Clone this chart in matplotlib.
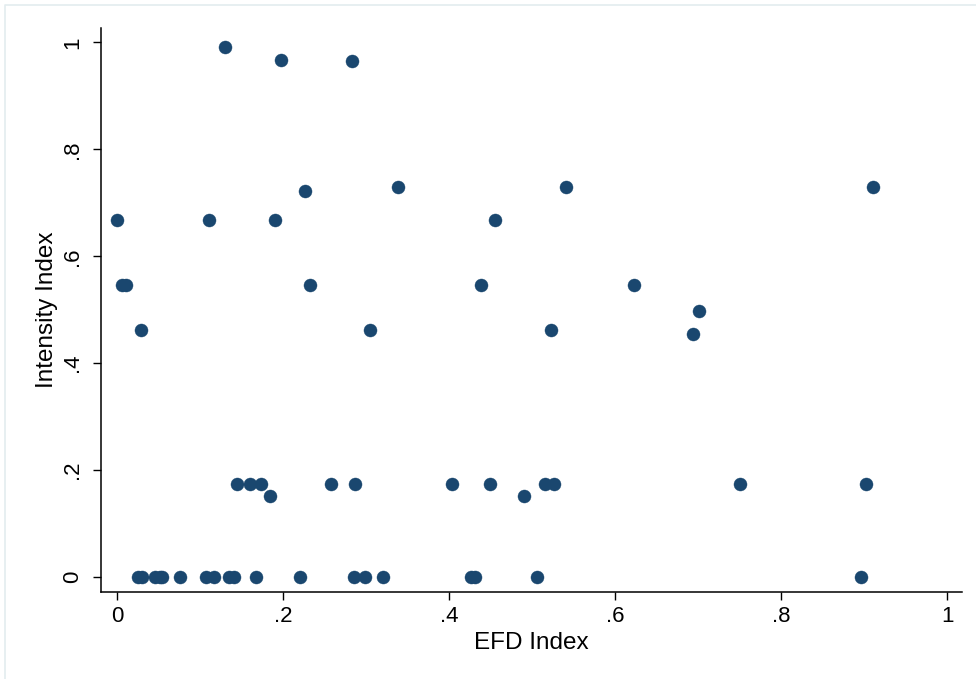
import numpy as np
import matplotlib
matplotlib.use("Agg")
import matplotlib.pyplot as plt
from matplotlib.lines import Line2D

plt.rcParams["font.family"] = ["Liberation Sans", "DejaVu Sans"]

# EFD index vs intensity index
efd = [0.130, 0.198, 0.283, 0.2265, 0.339, 0.541, 0.911,
       0.000, 0.111, 0.190, 0.455,
       0.006, 0.011, 0.233, 0.439, 0.623,
       0.701, 0.029, 0.305, 0.523, 0.694,
       0.144, 0.160, 0.173, 0.258, 0.287, 0.404, 0.449, 0.516, 0.526, 0.751, 0.902,
       0.184, 0.490,
       0.025, 0.030, 0.046, 0.052, 0.054, 0.076, 0.107, 0.117, 0.135, 0.141,
       0.168, 0.221, 0.285, 0.299, 0.320, 0.427, 0.431, 0.506, 0.896]
intensity = [0.991, 0.968, 0.966, 0.723, 0.729, 0.729, 0.729,
             0.667, 0.667, 0.667, 0.667,
             0.546, 0.546, 0.546, 0.546, 0.546,
             0.497, 0.462, 0.462, 0.462, 0.454,
             0.174, 0.174, 0.174, 0.174, 0.174, 0.174, 0.174, 0.174, 0.174, 0.174, 0.174,
             0.151, 0.151,
             0, 0, 0, 0, 0, 0, 0, 0, 0, 0,
             0, 0, 0, 0, 0, 0, 0, 0, 0]

ticks = [0, 0.2, 0.4, 0.6, 0.8, 1.0]
tick_labels = ["0", ".2", ".4", ".6", ".8", "1"]

W, H = 976, 679
fig = plt.figure(figsize=(W / 100, H / 100), dpi=100)
fig.patch.set_facecolor("white")
ax = fig.add_axes([101 / W, 1 - 592 / H, (962 - 101) / W, (592 - 28) / H])

ax.scatter(efd, intensity, s=88, color="#1a476f", edgecolors="#1a476f",
           linewidths=0.3, zorder=3, clip_on=False)

ax.set_xlim(-0.0193, 1.018)
ax.set_ylim(-0.028, 1.027)
ax.set_xticks(ticks)
ax.set_xticklabels(tick_labels)
ax.set_yticks(ticks)
ax.set_yticklabels(tick_labels, rotation=90, va="center")
ax.tick_params(direction="out", length=6, width=1, colors="black",
               labelsize=16, pad=4)
ax.tick_params(axis="y", pad=7)
for s in ("top", "right"):
    ax.spines[s].set_visible(False)
for s in ("left", "bottom"):
    ax.spines[s].set_linewidth(1.1)

ax.set_xlabel("EFD Index", fontsize=17.5, labelpad=4)
ax.set_ylabel("Intensity Index", fontsize=17.5, labelpad=3)

# light outer frame (only top/left visible in the crop)
fig.add_artist(Line2D([5 / W, 5 / W, 1.0], [0.0, 1 - 4.5 / H, 1 - 4.5 / H],
                      transform=fig.transFigure, color="#e3ecef", lw=1.2))

fig.savefig("out.png", dpi=100)
